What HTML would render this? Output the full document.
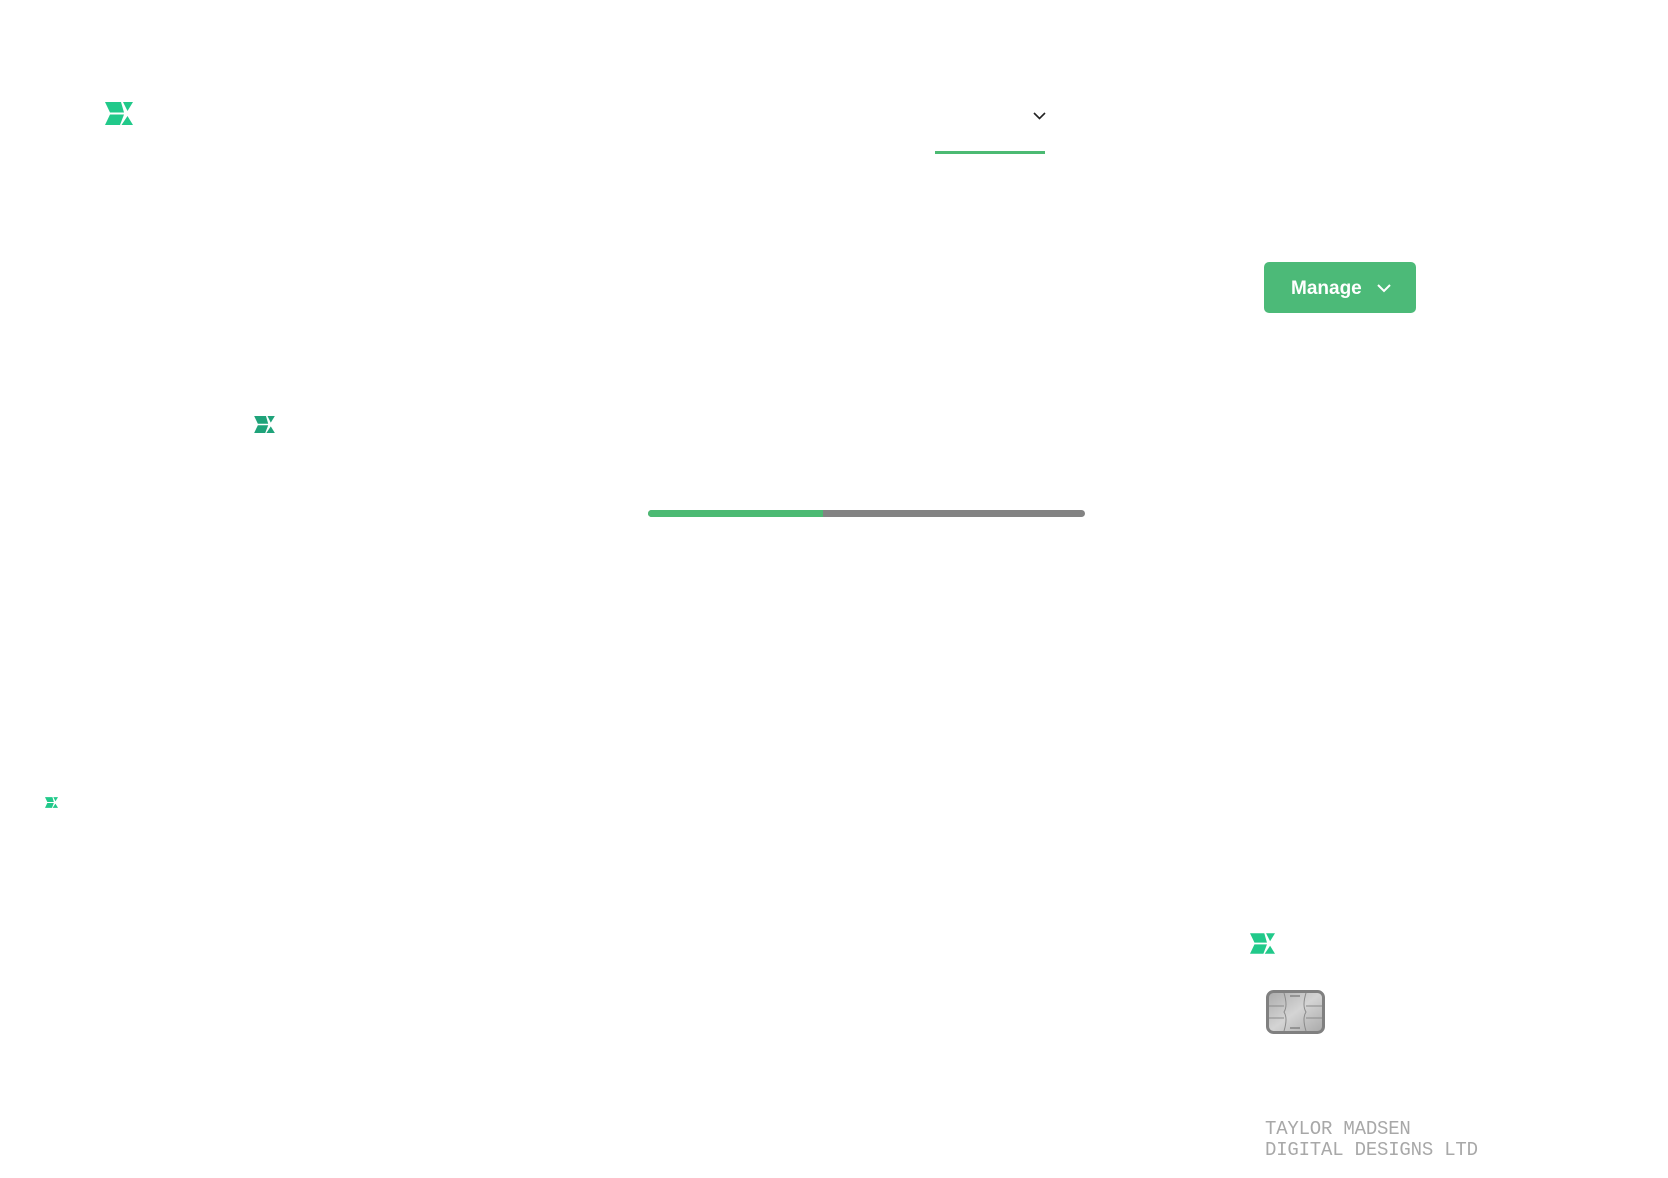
<!DOCTYPE html>
<html><head><meta charset="utf-8"><style>
html,body{margin:0;padding:0;background:#fff;width:1668px;height:1178px;overflow:hidden;position:relative;font-family:"Liberation Sans",sans-serif}
.a{position:absolute}
svg.logo{position:absolute}
</style></head><body>
<svg width="0" height="0" style="position:absolute"><defs><g id="lg">
<polygon points="0,0 16,0 19,10.5 5,10.5"/><polygon points="18,0 28,0 22.5,9"/>
<polygon points="5,12.5 19,12.5 15,23 0,23"/><polygon points="22.5,14 28,23 16.5,23"/></g></defs></svg>

<svg class="logo" style="left:105px;top:102px" width="28" height="23" viewBox="0 0 28 23" fill="#21c98a"><use href="#lg"/></svg>
<svg class="logo" style="left:254px;top:416px" width="21" height="17" viewBox="0 0 28 23" fill="#1fa37a"><use href="#lg"/></svg>
<svg class="logo" style="left:45px;top:797px" width="13" height="11" viewBox="0 0 28 23" fill="#21c98a"><use href="#lg"/></svg>
<svg class="logo" style="left:1250px;top:933px" width="25" height="21" viewBox="0 0 28 23" fill="#21c98a"><use href="#lg"/></svg>

<svg class="a" style="left:1033px;top:112px" width="13" height="8" viewBox="0 0 13 8"><polyline points="1,1 6.5,6.5 12,1" fill="none" stroke="#222" stroke-width="1.6"/></svg>
<div class="a" style="left:935px;top:151px;width:110px;height:3px;background:#4cba73"></div>

<div class="a" style="left:1264px;top:262px;width:152px;height:51px;background:#4cba78;border-radius:5px"></div>
<div class="a" style="left:1291px;top:277px;color:#fff;font-weight:bold;font-size:19px;line-height:24px">Manage</div>
<svg class="a" style="left:1377px;top:284px" width="14" height="9" viewBox="0 0 14 9"><polyline points="1,1 7,7 13,1" fill="none" stroke="#fff" stroke-width="2"/></svg>

<div class="a" style="left:648px;top:510px;width:437px;height:7px;background:#838383;border-radius:4px"></div>
<div class="a" style="left:648px;top:510px;width:175px;height:7px;background:#4cba73;border-radius:4px 0 0 4px"></div>

<svg class="a" style="left:1266px;top:990px" width="59" height="44" viewBox="0 0 59 44">
<defs><linearGradient id="cg" x1="0" y1="0" x2="1" y2="1"><stop offset="0" stop-color="#aaa"/><stop offset=".5" stop-color="#d4d4d4"/><stop offset="1" stop-color="#a8a8a8"/></linearGradient></defs>
<rect x="1.5" y="1.5" width="56" height="41" rx="6" fill="url(#cg)" stroke="#808080" stroke-width="3"/>
<path d="M3,16 H18 M3,28 H18 M40,16 H56 M40,28 H56 M18,3 Q22,16 18,22 Q22,28 18,41 M40,3 Q36,16 40,22 Q36,28 40,41" fill="none" stroke="#8a8a8a" stroke-width="1"/>
<path d="M24,6 H34 M24,38 H34" stroke="#777" stroke-width="1.2"/>
</svg>

<div class="a" style="left:1265px;top:1119px;font-family:'Liberation Mono',monospace;font-size:19px;line-height:21px;letter-spacing:-0.2px;color:#a8a8a8;white-space:pre">TAYLOR MADSEN
DIGITAL DESIGNS LTD</div>
</body></html>
